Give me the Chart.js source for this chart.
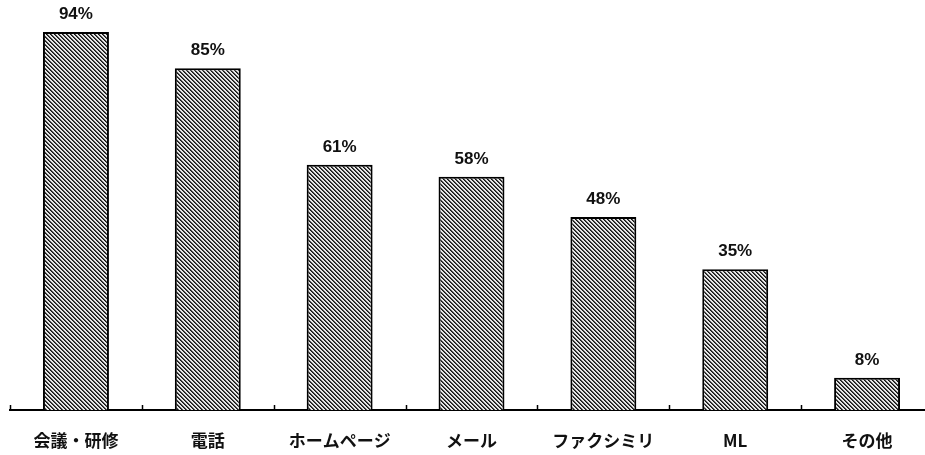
<!DOCTYPE html>
<html>
<head>
<meta charset="utf-8">
<script src="https://cdn.jsdelivr.net/npm/chart.js@4/dist/chart.umd.min.js"></script>
<style>
  html, body { margin: 0; padding: 0; background: #fff; overflow: hidden; }
  #wrap { width: 935px; height: 455px; }
</style>
</head>
<body>
<div id="wrap"><canvas id="chart" width="935" height="455"></canvas></div>
<script>
// Channels used, share of respondents (%)
const categories = ['会議・研修', '電話', 'ホームページ', 'メール', 'ファクシミリ', 'ML', 'その他'];
const shares = [94, 85, 61, 58, 48, 35, 8];
const valueSuffix = '%';

// Fine diagonal hatch used to fill the bars
function makeHatch() {
  const size = 8;
  const c = document.createElement('canvas');
  c.width = size; c.height = size;
  const g = c.getContext('2d');
  const img = g.createImageData(size, size);
  for (let y = 0; y < size; y++) {
    for (let x = 0; x < size; x++) {
      const k = ((x - y) % 4 + 4) % 4;
      const v = k === 0 ? 20 : (k === 1 ? 80 : 230);
      const i = (y * size + x) * 4;
      img.data[i] = v; img.data[i + 1] = v; img.data[i + 2] = v; img.data[i + 3] = 255;
    }
  }
  g.putImageData(img, 0, 0);
  return document.getElementById('chart').getContext('2d').createPattern(c, 'repeat');
}

// Value labels above each bar
const valueLabels = {
  id: 'valueLabels',
  afterDatasetsDraw(chart) {
    const ctx = chart.ctx;
    const meta = chart.getDatasetMeta(0);
    ctx.save();
    ctx.font = 'bold 17px "Liberation Sans", Arial, sans-serif';
    ctx.fillStyle = '#111';
    ctx.textAlign = 'center';
    ctx.textBaseline = 'bottom';
    meta.data.forEach((bar, i) => {
      ctx.fillText(chart.data.datasets[0].data[i] + valueSuffix, bar.x, bar.y - 9);
    });
    ctx.restore();
  }
};

// Short upward tick marks at the category boundaries of the x axis
const boundaryTicks = {
  id: 'boundaryTicks',
  afterDraw(chart) {
    const x = chart.scales.x;
    const ctx = chart.ctx;
    const n = chart.data.labels.length;
    const half = (x.getPixelForValue(1) - x.getPixelForValue(0)) / 2;
    const base = chart.chartArea.bottom;
    ctx.save();
    ctx.strokeStyle = '#000';
    ctx.lineWidth = 1.5;
    ctx.beginPath();
    for (let i = 0; i <= n; i++) {
      const px = Math.round(x.getPixelForValue(i) - half) + 0.5;
      ctx.moveTo(px, base);
      ctx.lineTo(px, base - 5);
    }
    ctx.stroke();
    ctx.restore();
  }
};

new Chart(document.getElementById('chart'), {
  type: 'bar',
  data: {
    labels: categories,
    datasets: [{
      data: shares,
      backgroundColor: makeHatch(),
      borderColor: '#000',
      borderWidth: 2,
      borderSkipped: 'bottom',
      barPercentage: 0.5,
      categoryPercentage: 1.0
    }]
  },
  options: {
    responsive: false,
    devicePixelRatio: 1,
    animation: false,
    layout: { padding: { left: 10, right: 2, top: 8, bottom: 5 } },
    plugins: {
      legend: { display: false },
      tooltip: { enabled: false }
    },
    scales: {
      y: {
        display: false,
        min: 0,
        max: 100
      },
      x: {
        grid: { display: false, drawTicks: false },
        border: { display: true, color: '#000', width: 2 },
        afterFit(scale) { scale.height = 40; },
        ticks: {
          color: '#111',
          padding: 20,
          font: { family: '"Noto Sans CJK JP", sans-serif', size: 17, weight: 'bold' }
        }
      }
    }
  },
  plugins: [valueLabels, boundaryTicks]
});
</script>
</body>
</html>
